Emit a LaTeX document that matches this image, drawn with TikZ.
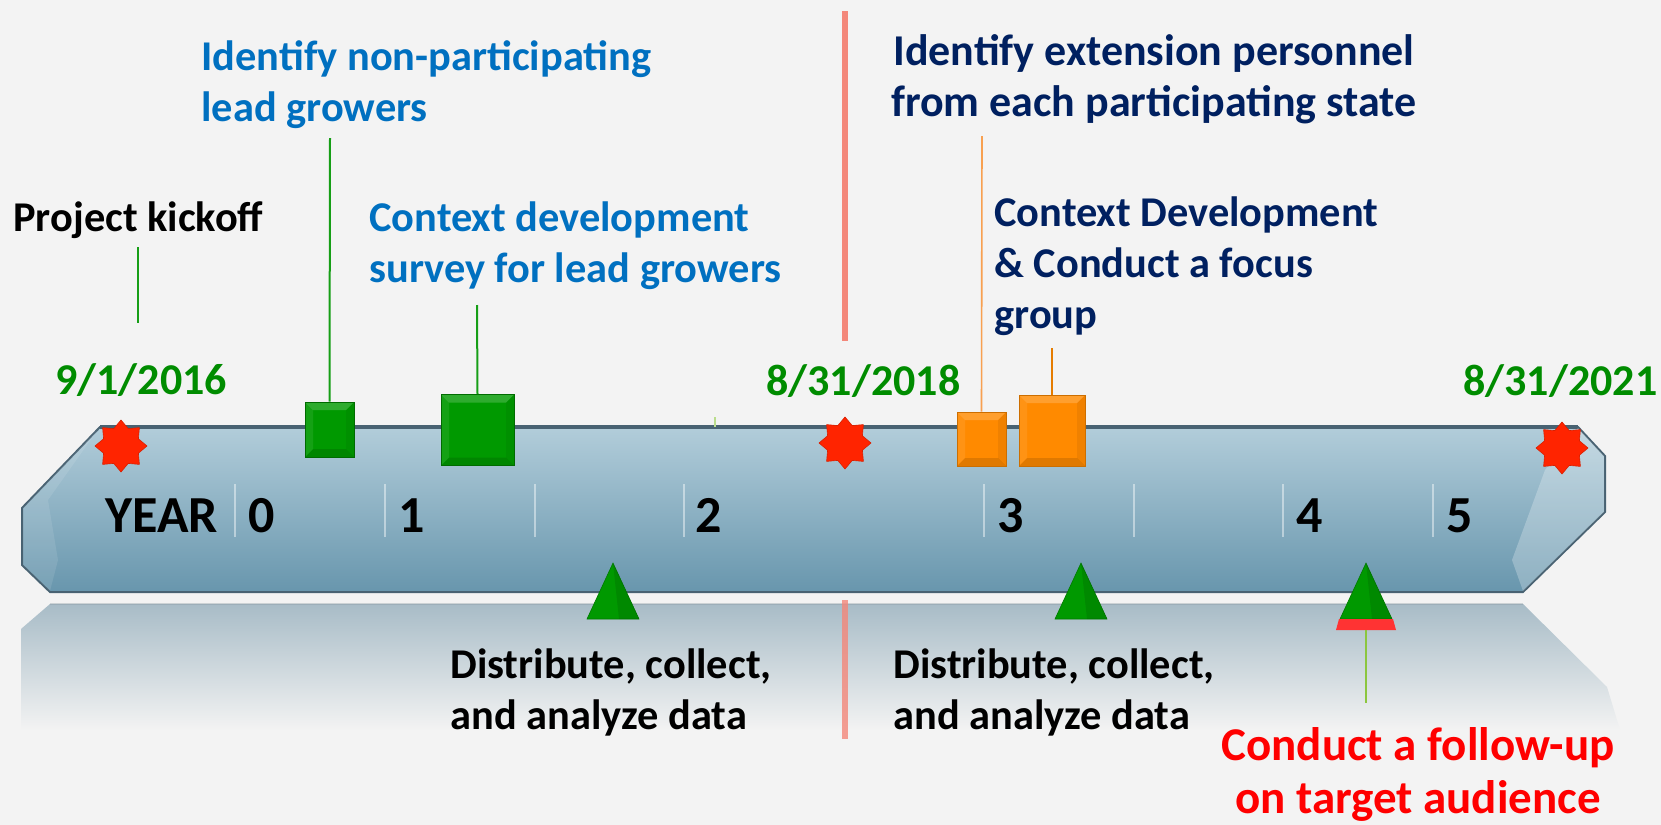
\documentclass[tikz,border=0pt]{standalone}
\usepackage{fontspec}
\setmainfont{Carlito}
\usetikzlibrary{shapes.geometric}

\definecolor{bgc}{RGB}{243,243,243}
\definecolor{bartopc}{RGB}{178,205,218}
\definecolor{barbotc}{RGB}{104,150,173}
\definecolor{barlinec}{RGB}{72,98,114}
\definecolor{reflc}{RGB}{168,188,199}
\definecolor{dategreenc}{RGB}{0,140,0}
\definecolor{lblbluec}{RGB}{0,112,192}
\definecolor{lblnavyc}{RGB}{0,32,96}
\definecolor{starredc}{RGB}{255,36,0}
\definecolor{sqgreenc}{RGB}{0,153,0}
\definecolor{sqorangec}{RGB}{255,138,0}
\definecolor{cutlinec}{RGB}{243,135,122}
\definecolor{greenlinec}{RGB}{22,158,22}
\definecolor{orangelinec}{RGB}{248,160,80}
\definecolor{limelinec}{RGB}{140,198,63}

\tikzset{
  bevel/.style={path picture={
    \fill[white,opacity=.18] (path picture bounding box.north west) -- (path picture bounding box.north east)
      -- ([xshift=-4pt,yshift=-4pt]path picture bounding box.north east) -- ([xshift=4pt,yshift=-4pt]path picture bounding box.north west) -- cycle;
    \fill[white,opacity=.08] (path picture bounding box.north west) -- (path picture bounding box.south west)
      -- ([xshift=4pt,yshift=4pt]path picture bounding box.south west) -- ([xshift=4pt,yshift=-4pt]path picture bounding box.north west) -- cycle;
    \fill[black,opacity=.12] (path picture bounding box.south west) -- (path picture bounding box.south east)
      -- ([xshift=-4pt,yshift=4pt]path picture bounding box.south east) -- ([xshift=4pt,yshift=4pt]path picture bounding box.south west) -- cycle;
    \fill[black,opacity=.06] (path picture bounding box.north east) -- (path picture bounding box.south east)
      -- ([xshift=-4pt,yshift=4pt]path picture bounding box.south east) -- ([xshift=-4pt,yshift=-4pt]path picture bounding box.north east) -- cycle;
  }},
  gsquare/.style={rectangle, bevel, fill=sqgreenc, draw=sqgreenc!70!black, line width=.4pt, inner sep=0pt},
  osquare/.style={rectangle, bevel, fill=sqorangec, draw=sqorangec!80!black, line width=.4pt, inner sep=0pt},
  milestone/.style={star, star points=8, star point ratio=1.38, minimum size=26pt, inner sep=0pt,
    fill=starredc, draw=starredc!85!black, line width=.3pt},
  gtri/.style={fill=sqgreenc, draw=sqgreenc!80!black, line width=.3pt},
  lbl/.style={font=\fontsize{21.2}{25.5}\selectfont\bfseries, align=left, inner sep=0pt, anchor=base west},
  datelbl/.style={font=\fontsize{22}{26}\selectfont\bfseries, text=dategreenc, inner sep=0pt, anchor=base west},
  yearlbl/.style={font=\fontsize{26}{30}\selectfont\bfseries, inner sep=0pt, anchor=base west},
  yeartick/.style={white, opacity=.45, line width=.6pt},
  gline/.style={greenlinec, line width=1pt},
  oline/.style={orangelinec, line width=.8pt},
  cutline/.style={cutlinec, line width=3pt},
}

\begin{document}
\begin{tikzpicture}[x=0.5pt,y=-0.5pt]

% Background
\fill[bgc] (0,0) rectangle (1661,825);
\useasboundingbox (0,0) rectangle (1661,825);

% Reflection of the bar
\shade[top color=reflc, bottom color=bgc] (50,604) -- (1523,604) -- (1607,687) -- (1620,730) -- (21,730) -- (21,629) -- cycle;
\draw[reflc!80!black, opacity=.35, line width=.8pt] (50,604) -- (1523,604);

% Bar
\shade[top color=bartopc, bottom color=barbotc, draw=barlinec, line width=1pt]
  (100,427) -- (1578,427) -- (1605,456) -- (1605,512) -- (1523,592) -- (50,592) -- (22,565) -- (22,508) -- cycle;
\draw[barlinec, line width=1.6pt] (100,427) -- (1578,427);
\fill[white, opacity=.25] (1578,428) -- (1604,456) -- (1604,512) -- (1523,591) -- (1512,560) -- (1545,470) -- cycle;
\fill[white, opacity=.1] (99,428) -- (23,508) -- (23,565) -- (50,591) -- (58,560) -- (48,500) -- cycle;

% Year ticks and labels
\foreach \tx in {235,385,535,684,984,1134,1283,1433}
  \draw[yeartick] (\tx,484) -- (\tx,537);
\node[yearlbl] (year) at (105,532) {YEAR};
\node[yearlbl] (y0) at (248,532) {0};
\node[yearlbl] (y1) at (398,532) {1};
\node[yearlbl] (y2) at (695,532) {2};
\node[yearlbl] (y3) at (997,532) {3};
\node[yearlbl] (y4) at (1296,532) {4};
\node[yearlbl] (y5) at (1446,532) {5};

% Cut line between the two project periods
\coordinate (cuttop) at (845,11);
\coordinate (cutbot) at (845,341);
\coordinate (cutrtop) at (845,600);
\coordinate (cutrbot) at (845,739);
\draw[cutline] (cuttop) -- (cutbot);
\draw[cutline, opacity=.8] (cutrtop) -- (cutrbot);

% Milestones
\node[milestone] (start) at (121,446) {};
\node[milestone] (mid) at (845,443) {};
\node[milestone] (end) at (1562,448) {};
\node[datelbl] (d1) at (55,394) {9/1/2016};
\node[datelbl] (d2) at (766,395) {8/31/2018};
\node[datelbl] (d3) at (1463,395) {8/31/2021};

% Tasks
\node[gsquare, minimum width=24.5pt, minimum height=27.5pt] (lead) at (329.5,429.5) {};
\node[gsquare, minimum width=36.5pt, minimum height=35.5pt] (survey) at (477.5,430) {};
\node[osquare, minimum width=24.5pt, minimum height=27pt] (ext) at (981.5,439) {};
\node[osquare, minimum width=33pt, minimum height=35.5pt] (focus) at (1052,430.5) {};
\draw[limelinec!60, line width=.6pt] (715,417) -- (715,427);

% Surveys
\foreach \tx in {613,1081,1366}
  \fill[gtri] (\tx,563) -- ++(26,56) -- ++(-52,0) -- cycle;
\foreach \tx in {613,1081,1366}
  \fill[black, opacity=.1] (\tx,563) -- ++(26,56) -- ++(-20,0) -- cycle;
\fill[red!80!white] (1339,619) -- (1393,619) -- (1396,630) -- (1336,630) -- cycle;
\coordinate (follow) at (1366,630);

% Labels (base = baseline of the last line)
\node[lbl] (kickoff) at (13,231) {Project kickoff};
\node[lbl, text=lblbluec] (leadlbl) at (201,121) {Identify non-participating\\lead growers};
\node[lbl, text=lblbluec] (surveylbl) at (369,282) {Context development\\survey for lead growers};
\node[lbl, font=\fontsize{22}{25.5}\selectfont\bfseries, text=lblnavyc, align=center, anchor=base] (extlbl) at (1154,116) {Identify extension personnel\\from each participating state};
\node[lbl, text=lblnavyc] (focuslbl) at (994,328) {Context Development\\\& Conduct a focus\\group};
\node[lbl] (dist1) at (450,729) {Distribute, collect,\\and analyze data};
\node[lbl] (dist2) at (893,729) {Distribute, collect,\\and analyze data};
\node[lbl, font=\fontsize{23.5}{26.5}\selectfont\bfseries, text=red, align=center, anchor=base] (followlbl) at (1418,813) {Conduct a follow-up\\on target audience};

% Connect nodes
\coordinate (kickofftop) at (138,247);
\coordinate (kickoffbot) at (138,323);
\coordinate (leadtop) at (330,138);
\coordinate (surveytop) at (477,305);
\coordinate (exttop) at (982,136);
\coordinate (focustop) at (1052,348);
\coordinate (followbot) at (1366,703);
\draw[gline] (kickofftop) -- (kickoffbot);
\draw[gline] (lead.north) -- (leadtop);
\draw[gline] (survey.north) -- (surveytop);
\draw[oline] (ext.north) -- (exttop);
\draw[oline, line width=1pt, sqorangec!90!black] (focus.north) -- (focustop);
\draw[limelinec, line width=.8pt] (follow) -- (followbot);

\end{tikzpicture}
\end{document}
